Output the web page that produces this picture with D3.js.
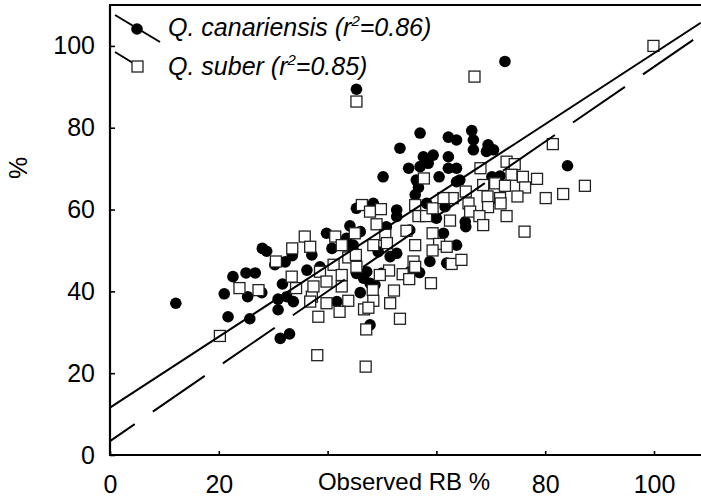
<!DOCTYPE html>
<html>
<head>
<meta charset="utf-8">
<script src="https://cdn.jsdelivr.net/npm/d3@7/dist/d3.min.js"></script>
<style>
  html, body { margin: 0; padding: 0; background: #fff; }
  svg { display: block; }
  svg text { font-family: "Liberation Sans", Arial, sans-serif; font-weight: normal; fill: #000; }
</style>
</head>
<body>
<svg id="chart" width="701" height="497"></svg>
<script>
// Observed RB % (x) against predicted % (y) for two oak species
const canariensis = [
  [22.6,43.6],[25.0,44.5],[26.7,44.5],[21.0,39.4],[25.3,38.7],[27.9,39.7],[12.1,37.1],
  [21.7,33.8],[25.7,33.3],[31.7,41.8],[30.9,38.1],[32.5,38.7],[33.7,37.5],[30.9,35.5],
  [31.3,28.5],[33.0,29.6],[36.2,45.2],[57.0,78.7],[62.2,77.7],[63.7,77.0],[53.3,75.0],
  [57.6,72.9],[59.4,73.3],[62.2,72.9],[54.9,70.1],[57.0,70.5],[58.5,71.3],[62.2,70.1],
  [63.7,70.1],[50.2,68.0],[60.5,68.0],[63.7,66.8],[56.7,65.4],[56.1,63.6],[52.7,59.9],
  [45.3,60.3],[52.7,58.3],[44.1,56.0],[39.8,54.2],[60.0,57.9],[61.3,54.2],[63.7,51.3],
  [40.8,50.5],[37.1,48.9],[38.6,46.0],[44.7,51.3],[47.2,44.8],[46.6,43.2],[48.7,41.6],
  [46.0,39.7],[41.7,37.5],[47.8,31.8],[51.5,48.5],[58.8,47.3],[56.9,44.6],[61.9,46.9],
  [66.5,79.3],[66.8,77.0],[66.8,74.6],[69.5,75.8],[70.5,74.6],[69.2,74.2],[71.7,68.2],
  [70.2,68.0],[84.1,70.7],[61.6,60.7],[65.3,57.0],[65.4,55.8],[72.6,96.2],[45.3,89.4],
  [49.3,49.7],[52.7,49.3],[45.3,44.4],[49.9,44.4],[55.1,44.8],[47.8,42.0],[44.7,50.1],
  [48.4,61.5],[55.1,55.0],[46.0,54.6],[43.5,53.0],[50.8,55.8],[58.2,61.5],[56.3,67.2],
  [64.3,67.2],[28.0,50.5],[28.8,49.8],[32.2,47.2],[33.5,48.7],[30.3,46.5]
];
const suber = [
  [23.8,40.8],[27.3,40.3],[20.2,29.1],[33.4,43.6],[34.2,40.8],[37.1,38.7],[36.8,37.5],
  [37.4,41.2],[38.3,33.8],[38.1,24.4],[45.3,86.4],[57.7,67.6],[46.3,61.1],[47.8,59.5],
  [49.8,60.1],[56.1,61.1],[56.7,58.4],[58.1,58.4],[59.3,60.3],[62.5,57.3],[49.0,56.4],
  [45.0,54.2],[41.4,53.4],[50.6,53.8],[54.5,54.8],[59.3,54.2],[35.8,53.4],[36.8,50.9],
  [42.6,51.3],[48.4,51.3],[56.1,51.3],[60.5,51.6],[61.9,50.9],[50.9,51.8],[43.8,48.3],
  [45.2,48.9],[59.3,50.0],[62.8,46.7],[55.8,47.3],[41.1,46.5],[38.6,44.8],[42.6,44.0],
  [45.3,46.0],[51.3,45.1],[53.8,44.2],[56.1,46.0],[55.0,43.0],[59.0,42.0],[39.8,42.4],
  [42.6,41.2],[39.8,37.1],[43.8,37.7],[48.3,40.3],[52.2,40.2],[48.4,37.7],[46.7,35.6],
  [47.5,36.0],[51.5,37.1],[42.2,35.0],[53.3,33.3],[47.1,30.7],[47.0,21.6],[49.6,44.0],
  [67.0,92.5],[81.4,76.0],[68.1,70.1],[72.9,71.7],[74.4,71.1],[73.8,68.5],[75.9,68.0],
  [78.5,67.5],[68.6,66.0],[70.8,66.4],[72.6,65.8],[76.3,65.4],[74.9,63.2],[71.7,62.8],
  [69.4,63.2],[65.4,64.4],[63.0,62.8],[61.3,62.8],[65.9,61.5],[69.5,60.6],[71.8,61.5],
  [66.2,59.5],[72.9,58.4],[67.9,58.4],[68.6,56.2],[76.2,54.6],[80.1,62.8],[83.3,63.8],
  [87.3,65.8],[64.6,47.7],[99.9,100.0],[30.5,47.3],[33.5,50.5]
];
// Linear fits: [intercept, slope, xEnd]
const canariensisFit = [11.6, 0.866, 108.6];
const suberFit = [3.4, 0.915, 107.2];

const xTicks = [0, 20, 40, 60, 80, 100];
const xTickLabels = ["0", "20", "", "", "80", "100"];
const yTicks = [0, 20, 40, 60, 80, 100];
const yTickLabels = ["0", "20", "40", "60", "80", "100"];
const legendLabels = ["Q. canariensis", "Q. suber"];
const legendR2 = ["0.86", "0.85"];

const svg = d3.select("#chart");
const x = d3.scaleLinear().domain([0, 108.64]).range([110, 701]);
const y = d3.scaleLinear().domain([0, 110]).range([455, 5]);

// axes with inward ticks
const xAxis = svg.append("g").attr("transform", "translate(0,455)")
  .call(d3.axisBottom(x).tickValues(xTicks).tickSize(-4).tickPadding(20)
    .tickFormat((d, i) => xTickLabels[i]));
const yAxis = svg.append("g").attr("transform", "translate(110,0)")
  .call(d3.axisLeft(y).tickValues(yTicks).tickSize(-5).tickPadding(15)
    .tickFormat((d, i) => yTickLabels[i]));
[xAxis, yAxis].forEach(g => {
  g.attr("font-family", null).attr("font-size", null);
  g.select(".domain").remove();
  g.selectAll(".tick line").attr("stroke", "#000").attr("stroke-width", 1.6);
  g.selectAll(".tick text").style("font-size", "25px");
});

// frame: left, bottom, top
const frame = svg.append("g").attr("stroke", "#000").attr("stroke-width", 2.2).attr("fill", "none");
frame.append("line").attr("x1", 110).attr("x2", 110).attr("y1", y(110)).attr("y2", y(0));
frame.append("line").attr("x1", 109).attr("x2", 702).attr("y1", y(0)).attr("y2", y(0));
frame.append("line").attr("x1", 109).attr("x2", 702).attr("y1", y(110)).attr("y2", y(110));

// axis titles
svg.append("text").attr("x", 404).attr("y", 490).attr("text-anchor", "middle")
  .style("font-size", "24px").text("Observed RB %");
svg.append("text").attr("transform", "translate(18,168) rotate(-90)")
  .attr("text-anchor", "middle").attr("dy", "0.35em").style("font-size", "25px").text("%");

// markers
svg.append("g").selectAll("circle").data(canariensis).join("circle")
  .attr("cx", d => x(d[0])).attr("cy", d => y(d[1])).attr("r", 5.8).attr("fill", "#000");
const sq = 11;
svg.append("g").selectAll("rect").data(suber).join("rect")
  .attr("x", d => x(d[0]) - sq / 2).attr("y", d => y(d[1]) - sq / 2)
  .attr("width", sq).attr("height", sq)
  .attr("fill", "#fff").attr("stroke", "#222").attr("stroke-width", 1.3);

// regression lines
const fitLine = f => [[0, f[0]], [f[2], f[0] + f[1] * f[2]]];
const line = d3.line().x(d => x(d[0])).y(d => y(d[1]));
svg.append("path").attr("d", line(fitLine(canariensisFit)))
  .attr("stroke", "#000").attr("stroke-width", 2).attr("fill", "none");
svg.append("path").attr("d", line(fitLine(suberFit)))
  .attr("stroke", "#000").attr("stroke-width", 2).attr("fill", "none")
  .attr("stroke-dasharray", "63 22").attr("stroke-dashoffset", 33);

// legend
const lg = svg.append("g");
lg.append("line").attr("x1", 115).attr("y1", 15).attr("x2", 160).attr("y2", 42)
  .attr("stroke", "#000").attr("stroke-width", 2);
lg.append("circle").attr("cx", 137).attr("cy", 29).attr("r", 5.8).attr("fill", "#000");
lg.append("line").attr("x1", 115).attr("y1", 52).attr("x2", 133).attr("y2", 63)
  .attr("stroke", "#000").attr("stroke-width", 2);
lg.append("rect").attr("x", 132).attr("y", 61).attr("width", sq).attr("height", sq)
  .attr("fill", "#fff").attr("stroke", "#222").attr("stroke-width", 1.3);

[36, 75].forEach((by, i) => {
  const t = lg.append("text").attr("x", 168).attr("y", by)
    .style("font-size", "25px").style("font-style", "italic");
  t.append("tspan").text(legendLabels[i] + " (r");
  t.append("tspan").attr("dy", -10).style("font-size", "15px").text("2");
  t.append("tspan").attr("dy", 10).text("=" + legendR2[i] + ")");
});
</script>
</body>
</html>
